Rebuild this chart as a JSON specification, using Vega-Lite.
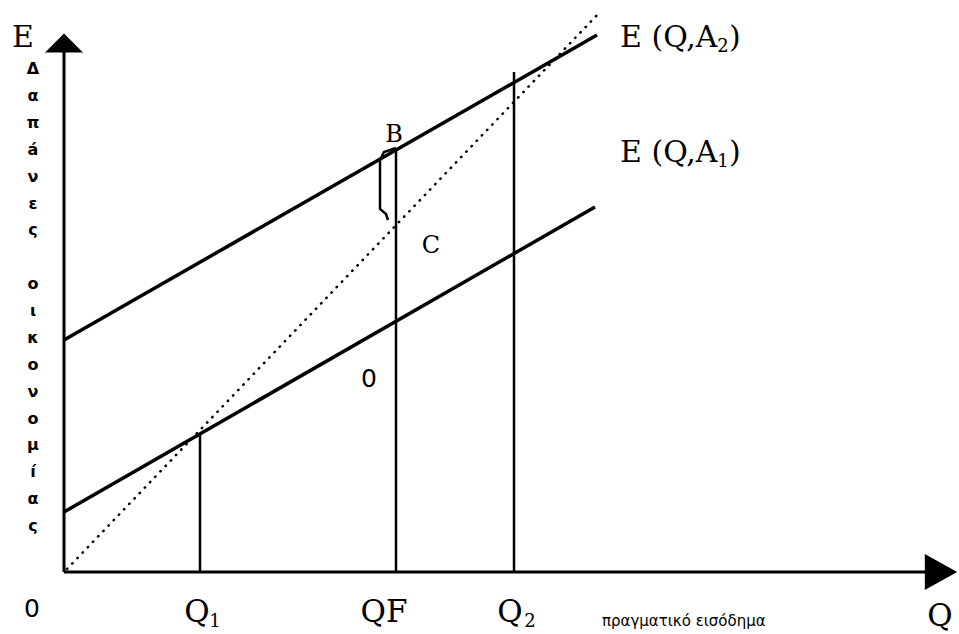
{
  "$schema": "https://vega.github.io/schema/vega-lite/v6.json",
  "width": 959,
  "height": 634,
  "padding": 0,
  "autosize": {"type": "none"},
  "background": "white",
  "config": {"view": {"stroke": null}},
  "datasets": {
    "lines": [
      {"id": "A2", "o": 0, "x": 0, "y": 232},
      {"id": "A2", "o": 1, "x": 533, "y": 537},
      {"id": "A1", "o": 0, "x": 0, "y": 60},
      {"id": "A1", "o": 1, "x": 531, "y": 365}
    ],
    "axes": [
      {"id": "yax", "o": 0, "x": 0, "y": 0},
      {"id": "yax", "o": 1, "x": 0, "y": 522},
      {"id": "xax", "o": 0, "x": 0, "y": 0},
      {"id": "xax", "o": 1, "x": 866, "y": 0}
    ],
    "verticals": [
      {"id": "Q1", "o": 0, "x": 136, "y": 0},
      {"id": "Q1", "o": 1, "x": 136, "y": 138},
      {"id": "QF", "o": 0, "x": 332, "y": 0},
      {"id": "QF", "o": 1, "x": 332, "y": 424},
      {"id": "Q2", "o": 0, "x": 450, "y": 0},
      {"id": "Q2", "o": 1, "x": 450, "y": 500}
    ],
    "dotted": [
      {"id": "d", "o": 0, "x": 3, "y": 3},
      {"id": "d", "o": 1, "x": 536, "y": 560}
    ],
    "hook": [
      {"id": "h", "o": 0, "x": 332, "y": 424},
      {"id": "h", "o": 1, "x": 320, "y": 420},
      {"id": "h", "o": 2, "x": 316, "y": 412},
      {"id": "h", "o": 3, "x": 316, "y": 363},
      {"id": "h", "o": 4, "x": 322, "y": 358},
      {"id": "h", "o": 5, "x": 324, "y": 352}
    ],
    "yarrow": [{"x": 0, "y": 529}],
    "xarrow": [{"x": 877, "y": 0}],
    "bigLeft": [
      {"t": "E", "x": -52, "y": 525},
      {"t": "E (Q,A", "x": 556, "y": 525},
      {"t": "E (Q,A", "x": 556, "y": 410},
      {"t": ")", "x": 665, "y": 525},
      {"t": ")", "x": 665, "y": 410}
    ],
    "bigCenter": [
      {"t": "Q", "x": 133, "y": -50},
      {"t": "QF", "x": 320, "y": -50},
      {"t": "Q", "x": 446, "y": -50},
      {"t": "Q", "x": 876, "y": -54}
    ],
    "subs": [
      {"t": "1", "x": 151, "y": -55},
      {"t": "2", "x": 466, "y": -55},
      {"t": "2", "x": 659, "y": 520},
      {"t": "1", "x": 659, "y": 405}
    ],
    "points": [
      {"t": "B", "x": 330, "y": 430},
      {"t": "C", "x": 367, "y": 319}
    ],
    "zeros": [
      {"t": "0", "x": -32, "y": -45},
      {"t": "0", "x": 305, "y": 185}
    ],
    "xtitle": [{"t": "πραγματικό εισόδημα", "x": 538, "y": -54}],
    "ytitle": [
      {"t": "Δ\nα\nπ\ná\nν\nε\nς", "x": -31, "y": 511},
      {"t": "ο\nι\nκ\nο\nν\nο\nμ\ní\nα\nς", "x": -31, "y": 296}
    ]
  },
  "encoding": {
    "x": {"field": "x", "type": "quantitative", "scale": {"domain": [-64, 895], "nice": false, "zero": false}, "axis": null},
    "y": {"field": "y", "type": "quantitative", "scale": {"domain": [-62, 572], "nice": false, "zero": false}, "axis": null}
  },
  "layer": [
    {
      "data": {"name": "axes"},
      "mark": {"type": "line", "color": "black", "strokeWidth": 3},
      "encoding": {"detail": {"field": "id"}, "order": {"field": "o"}}
    },
    {
      "data": {"name": "lines"},
      "mark": {"type": "line", "color": "black", "strokeWidth": 3.5},
      "encoding": {"detail": {"field": "id"}, "order": {"field": "o"}}
    },
    {
      "data": {"name": "verticals"},
      "mark": {"type": "line", "color": "black", "strokeWidth": 2.5},
      "encoding": {"detail": {"field": "id"}, "order": {"field": "o"}}
    },
    {
      "data": {"name": "dotted"},
      "mark": {"type": "line", "color": "black", "strokeWidth": 2.5, "strokeCap": "round", "strokeDash": [0.5, 7]},
      "encoding": {"detail": {"field": "id"}, "order": {"field": "o"}}
    },
    {
      "data": {"name": "hook"},
      "mark": {"type": "line", "color": "black", "strokeWidth": 2.5},
      "encoding": {"detail": {"field": "id"}, "order": {"field": "o"}}
    },
    {
      "data": {"name": "yarrow"},
      "mark": {"type": "point", "filled": true, "color": "black", "opacity": 1, "strokeWidth": 0, "size": 1444, "shape": "M0,-0.5L1,0.5L-1,0.5Z"},
      "encoding": {}
    },
    {
      "data": {"name": "xarrow"},
      "mark": {"type": "point", "filled": true, "color": "black", "opacity": 1, "strokeWidth": 0, "size": 1296, "shape": "M0.9,0L-0.9,-1L-0.9,1Z"},
      "encoding": {}
    },
    {
      "data": {"name": "bigLeft"},
      "mark": {"type": "text", "font": "DejaVu Serif", "fontSize": 30, "align": "left", "baseline": "alphabetic", "color": "black"},
      "encoding": {"text": {"field": "t"}}
    },
    {
      "data": {"name": "bigCenter"},
      "mark": {"type": "text", "font": "DejaVu Serif", "fontSize": 31, "align": "center", "baseline": "alphabetic", "color": "black"},
      "encoding": {"text": {"field": "t"}}
    },
    {
      "data": {"name": "subs"},
      "mark": {"type": "text", "font": "DejaVu Serif", "fontSize": 18, "align": "center", "baseline": "alphabetic", "color": "black"},
      "encoding": {"text": {"field": "t"}}
    },
    {
      "data": {"name": "points"},
      "mark": {"type": "text", "font": "DejaVu Serif", "fontSize": 24, "align": "center", "baseline": "alphabetic", "color": "black"},
      "encoding": {"text": {"field": "t"}}
    },
    {
      "data": {"name": "zeros"},
      "mark": {"type": "text", "font": "DejaVu Sans", "fontSize": 25, "align": "center", "baseline": "alphabetic", "color": "black"},
      "encoding": {"text": {"field": "t"}}
    },
    {
      "data": {"name": "xtitle"},
      "mark": {"type": "text", "font": "DejaVu Sans", "fontSize": 15, "align": "left", "baseline": "alphabetic", "color": "black"},
      "encoding": {"text": {"field": "t"}}
    },
    {
      "data": {"name": "ytitle"},
      "mark": {"type": "text", "font": "DejaVu Sans", "fontSize": 16, "fontWeight": "bold", "align": "center", "baseline": "top", "lineBreak": "\n", "lineHeight": 26.9, "color": "black"},
      "encoding": {"text": {"field": "t"}}
    }
  ]
}
